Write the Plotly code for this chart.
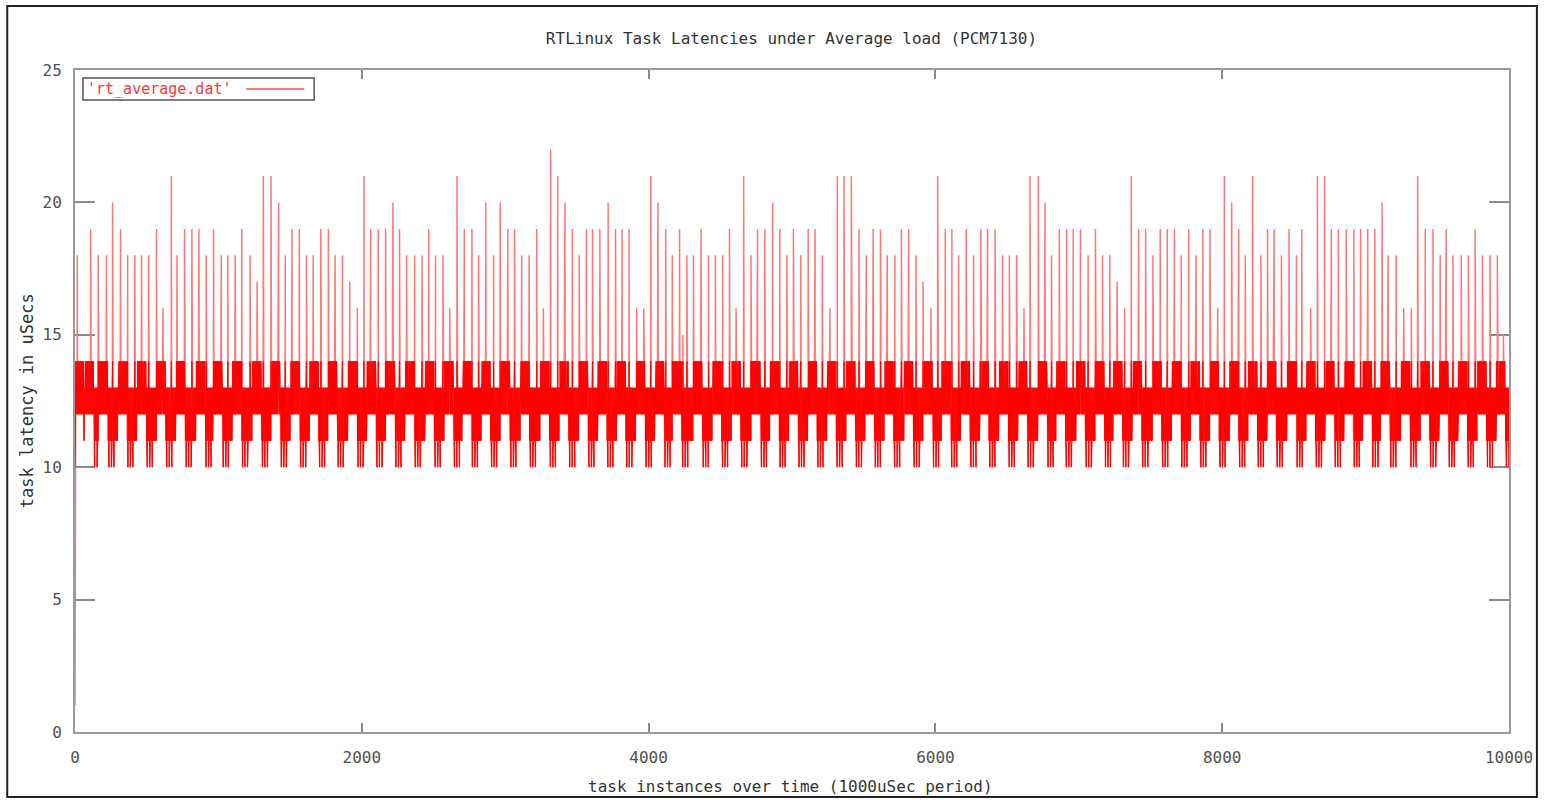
import numpy as np
import plotly.graph_objects as go

# ---------------- data ----------------
N_SAMPLES = 10000
FIRST_VALUE = 1

# isolated latency spikes (sample index, latency in uSecs)
SPIKE_X = [16, 109, 162, 220, 262, 318, 367, 417, 464, 514, 568, 614, 672, 711, 764, 815, 864, 915, 966, 1020,
           1066, 1117, 1163, 1221, 1270, 1313, 1367, 1420, 1466, 1513, 1564, 1614, 1661,
           1714, 1767, 1814, 1865, 1916, 1969, 2015, 2062, 2115, 2166, 2217, 2263, 2312, 2368, 2420, 2467, 2514,
           2566, 2613, 2664, 2715, 2768, 2814, 2865, 2919, 2965, 3018, 3065, 3115, 3167, 3220, 3266, 3317,
           3366, 3417, 3468, 3516, 3567, 3609, 3660, 3718, 3769, 3815, 3864, 3917, 3966, 4015, 4065, 4119, 4165,
           4216, 4239, 4267, 4313, 4366, 4418, 4466, 4517, 4564, 4610, 4663, 4714, 4760, 4811, 4865, 4915, 4964,
           5010, 5061, 5113, 5161, 5212, 5265, 5316, 5363, 5414, 5467, 5518, 5566, 5617, 5664, 5717, 5763, 5814,
           5865, 5914, 5969, 6016, 6069, 6115, 6162, 6215, 6266, 6317, 6364, 6416, 6468, 6516, 6567, 6618, 6660,
           6718, 6764, 6810, 6864, 6915, 6961, 7012, 7065, 7116, 7165, 7216, 7267, 7320, 7366, 7417, 7466, 7517,
           7568, 7617, 7667, 7714, 7767, 7818, 7865, 7915, 7969, 8015, 8066, 8115, 8161, 8212, 8270, 8316,
           8362, 8413, 8466, 8518, 8555, 8617, 8664, 8714, 8761, 8810, 8865, 8918, 8965, 9015, 9064, 9115, 9157,
           9213, 9266, 9319, 9363, 9416, 9470, 9520, 9562, 9609, 9667, 9717, 9764, 9815, 9868, 9919, 9961]
SPIKE_Y = [18, 19, 18, 18, 20, 19, 18, 18, 18, 18, 19, 16, 21, 18, 19, 19, 19, 18, 19, 18,
           18, 18, 19, 18, 17, 21, 21, 20, 18, 19, 19, 18, 18,
           19, 19, 18, 18, 17, 16, 21, 19, 19, 19, 20, 19, 18, 18, 18, 19, 18,
           18, 16, 21, 19, 19, 18, 20, 18, 20, 19, 19, 18, 18, 19, 16, 22,
           21, 20, 19, 18, 19, 19, 19, 20, 19, 19, 19, 16, 16, 21, 20, 19, 18,
           19, 15, 18, 18, 19, 18, 18, 18, 19, 16, 21, 18, 19, 19, 20, 19, 18,
           19, 18, 19, 19, 18, 16, 21, 21, 21, 19, 18, 19, 19, 18, 18, 19, 19,
           18, 17, 16, 21, 19, 19, 18, 19, 18, 19, 19, 19, 18, 18, 18, 16, 21,
           21, 20, 18, 19, 19, 19, 19, 18, 19, 18, 18, 17, 16, 21, 19, 19, 18,
           19, 19, 19, 18, 19, 18, 19, 19, 16, 21, 20, 19, 18, 21, 18, 19,
           19, 18, 19, 18, 19, 16, 21, 21, 19, 19, 19, 19, 19, 19, 19, 20, 18,
           18, 16, 16, 21, 19, 19, 18, 19, 18, 18, 18, 19, 18, 18, 18, 15]

# starts (sample index) of the recurring groups that reach 14 uSecs
HIGH_GROUP_STARTS = [0, 69, 169, 301, 436, 572, 707, 846, 966, 1100, 1239, 1371, 1506, 1638, 1767, 1906, 2038,
                     2170, 2305, 2444, 2578, 2703, 2837, 2972, 3108, 3247, 3382, 3516, 3648, 3780, 3915, 4047,
                     4170, 4313, 4448, 4582, 4719, 4849, 4981, 5113, 5247, 5381, 5513, 5648, 5784, 5919, 6046,
                     6180, 6312, 6447, 6579, 6718, 6845, 6984, 7118, 7243, 7378, 7517, 7651, 7783, 7917, 8054,
                     8184, 8316, 8455, 8589, 8721, 8853, 8983, 9108, 9249, 9386, 9516, 9648, 9782, 9914]
HIGH_GROUP_LEN = 58
# latency levels seen in each kind of stretch of the dense band
BASE_LEVELS = [12, 13]
HIGH_LEVELS = [12, 14, 13, 14, 12, 13, 14]
LOW_LEVELS = [13, 11, 12, 11, 13, 12, 11]
LOW_DIP_OFFSETS = [6, 23, 41]  # samples down to 10 uSecs inside each low stretch
LOW_DIP_VALUE = 10

# ---------------- build the series ----------------
y = np.array([BASE_LEVELS[i % len(BASE_LEVELS)] for i in range(N_SAMPLES)], dtype=float)
starts = HIGH_GROUP_STARTS + [N_SAMPLES + 4]
for a, b in zip(starts[:-1], starts[1:]):
    lo0, lo1 = a + HIGH_GROUP_LEN + 4, min(b - 4, N_SAMPLES)
    for k, i in enumerate(range(lo0, lo1)):
        y[i] = LOW_LEVELS[k % len(LOW_LEVELS)]
    for d in LOW_DIP_OFFSETS:
        if lo0 + d < lo1:
            y[lo0 + d] = LOW_DIP_VALUE
    for k, i in enumerate(range(a, min(a + HIGH_GROUP_LEN, N_SAMPLES))):
        y[i] = HIGH_LEVELS[k % len(HIGH_LEVELS)]
for sx, sy in zip(SPIKE_X, SPIKE_Y):
    y[sx] = sy
y[0] = FIRST_VALUE
x = np.arange(N_SAMPLES)

# ---------------- figure ----------------
FONT = "DejaVu Sans Mono"
fig = go.Figure()
fig.add_trace(go.Scatter(x=x, y=y, mode="lines", line=dict(color="#ff7878", width=1.5),
                         name="'rt_average.dat'", showlegend=False, hoverinfo="skip"))
fig.add_trace(go.Scatter(x=x, y=np.clip(y, 10, 14), mode="lines", line=dict(color="#ff0000", width=1),
                         showlegend=False, hoverinfo="skip"))

axis_common = dict(showline=True, linecolor="#9a9a9a", linewidth=2, mirror="ticks", ticks="inside",
                   tickcolor="#8a8a8a", tickwidth=2, showgrid=False, zeroline=False,
                   tickfont=dict(family=FONT, size=16, color="#505050"), layer="below traces")
fig.update_xaxes(range=[0, 10000], dtick=2000, tick0=0, tickformat="d", ticklen=9, ticklabelstandoff=10,
                 **axis_common)
fig.update_yaxes(range=[0, 25], dtick=5, tick0=0, ticklen=20, ticklabelstandoff=8, **axis_common)

L, T, W, H = 75, 70, 1439, 662


def px(xp):
    return (xp - L) / W


def py(yp):
    return (T + H - yp) / H


shapes = [
    dict(type="rect", xref="paper", yref="paper", x0=px(7), x1=px(1542), y0=py(797), y1=py(6),
         line=dict(color="#222222", width=2)),
    dict(type="rect", xref="paper", yref="paper", x0=px(83), x1=px(315), y0=py(100), y1=py(78),
         line=dict(color="#555555", width=1.5), fillcolor="white", layer="above"),
    dict(type="line", xref="paper", yref="paper", x0=px(247), x1=px(305), y0=py(89), y1=py(89),
         line=dict(color="#ff7878", width=2), layer="above"),
]
annotations = [
    dict(text="'rt_average.dat'", xref="paper", yref="paper", x=px(85), y=py(89), xanchor="left",
         yanchor="middle", showarrow=False, font=dict(family=FONT, size=15, color="#f03a3a")),
    dict(text="task instances over time (1000uSec period)", xref="paper", yref="paper", x=px(793), y=py(786),
         xanchor="center", yanchor="middle", showarrow=False, font=dict(family=FONT, size=16, color="#333333")),
    dict(text="task latency in uSecs", xref="paper", yref="paper", x=px(27), y=py(401), xanchor="center",
         yanchor="middle", textangle=-90, showarrow=False, font=dict(family=FONT, size=17, color="#333333")),
]

fig.update_layout(
    width=1545, height=800, autosize=False,
    margin=dict(l=L, r=1545 - L - W, t=T, b=800 - T - H, pad=0),
    paper_bgcolor="white", plot_bgcolor="white",
    title=dict(text="RTLinux Task Latencies under Average load (PCM7130)", x=px(794), xref="paper",
               y=1 - 38 / 800, yref="container", xanchor="center", yanchor="middle",
               font=dict(family=FONT, size=16, color="#333333")),
    shapes=shapes, annotations=annotations, showlegend=False,
)

fig.write_html(
    "out.html",
    config={"displayModeBar": False},
    post_script=(
        "document.documentElement.style.margin='0';document.documentElement.style.padding='0';"
        "document.documentElement.style.overflow='hidden';"
        "document.body.style.margin='0';document.body.style.padding='0';document.body.style.overflow='hidden';"
    ),
)
